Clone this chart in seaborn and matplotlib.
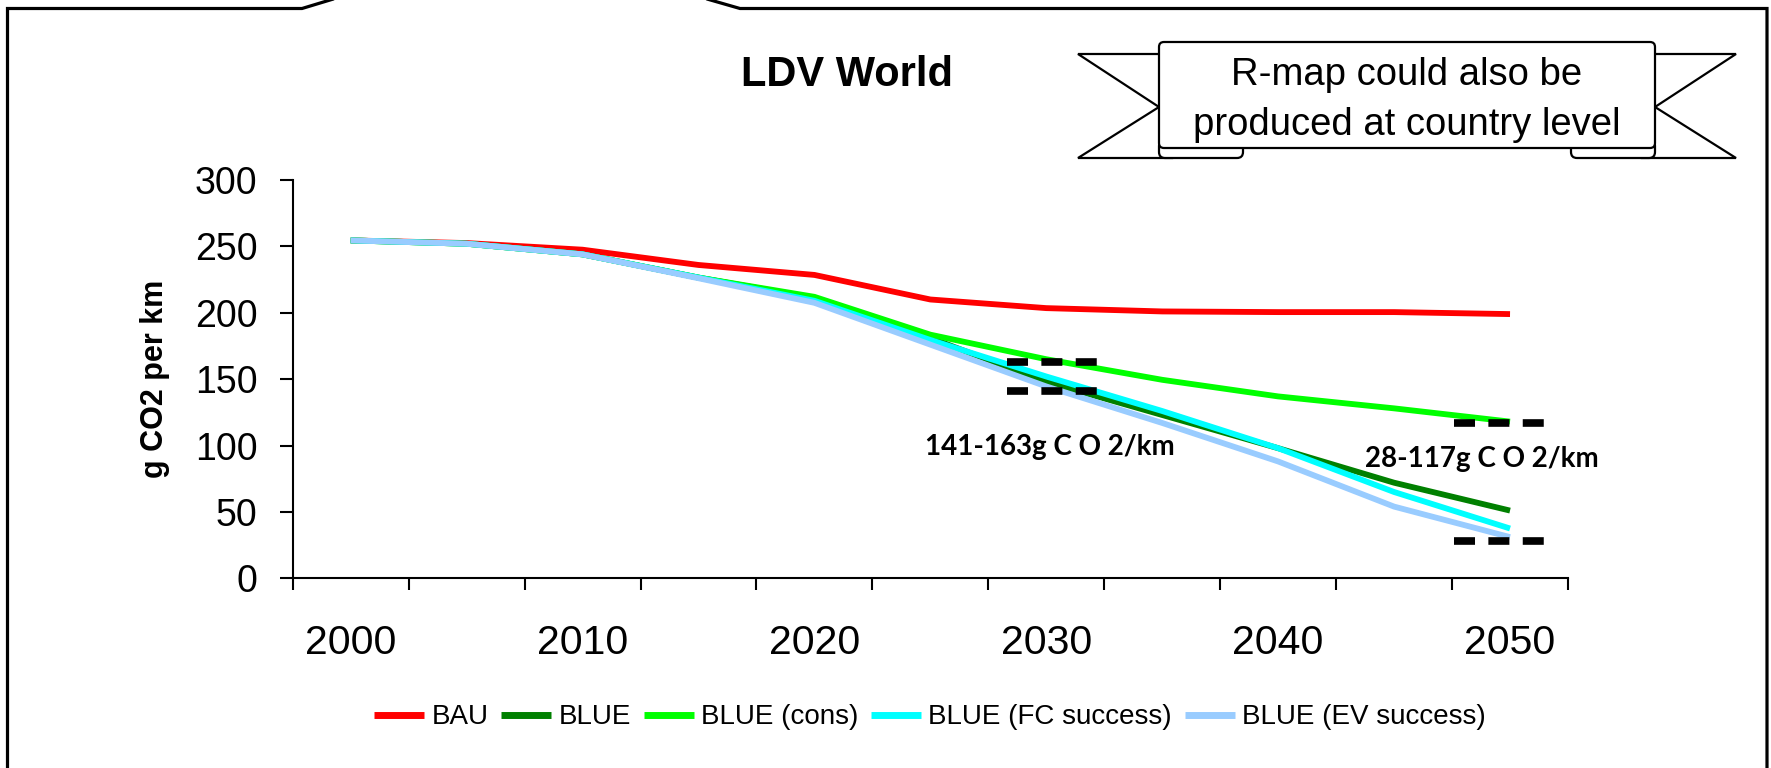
import matplotlib
matplotlib.use("Agg")
import matplotlib.pyplot as plt
from matplotlib.patches import Polygon, FancyBboxPatch
import numpy as np
import pandas as pd
import seaborn as sns

# ---- data -------------------------------------------------------------
years = [2000, 2005, 2010, 2015, 2020, 2025, 2030, 2035, 2040, 2045, 2050]
bau = [254.5, 252.5, 247.5, 236, 228.5, 210, 203.5, 201, 200.5, 200.5, 199]
blue = [254.5, 252, 244, 226.5, 211, 181, 148, 123, 98, 72, 51]
blue_cons = [254.5, 252, 244, 226.5, 212, 183.5, 165, 149.5, 137, 128, 118]
blue_fc = [254.5, 252, 244, 226.5, 209, 179.5, 152, 126, 98, 65, 37.5]
blue_ev = [254.5, 252, 244, 226, 207.5, 176, 144.5, 117, 88, 54, 31]

series_names = ["BAU", "BLUE", "BLUE (cons)", "BLUE (FC success)", "BLUE (EV success)"]
series_colors = ["#FF0000", "#008000", "#00FF00", "#00FFFF", "#99CCFF"]

x_label_years = [2000, 2010, 2020, 2030, 2040, 2050]
x_tick_labels = ["2000", "2010", "2020", "2030", "2040", "2050"]
y_ticks = [0, 50, 100, 150, 200, 250, 300]

range_2030 = [141, 163]   # g CO2/km band in 2030
range_2050 = [28, 117]    # g CO2/km band in 2050

title = "LDV World"
y_title = "g CO2 per km"
banner_lines = ["R-map could also be", "produced at country level"]

# ---- figure -----------------------------------------------------------
sns.set_theme(style="white")
plt.rcParams["font.family"] = ["Liberation Sans", "DejaVu Sans"]
plt.rcParams["text.color"] = "black"
plt.rcParams["axes.labelcolor"] = "black"
plt.rcParams["xtick.color"] = "black"
plt.rcParams["ytick.color"] = "black"

W, H = 1771, 768
fig = plt.figure(figsize=(W / 100, H / 100), dpi=100)
fig.patch.set_facecolor("white")

ax_l, ax_r, ax_t, ax_b = 292.7, 1568.0, 180.0, 578.3
ax = fig.add_axes([ax_l / W, 1 - ax_b / H, (ax_r - ax_l) / W, (ax_b - ax_t) / H])

long = pd.DataFrame({
    "year": years * len(series_names),
    "value": bau + blue + blue_cons + blue_fc + blue_ev,
    "scenario": [n for n in series_names for _ in years],
})
sns.lineplot(data=long, x="year", y="value", hue="scenario",
             hue_order=series_names, palette=dict(zip(series_names, series_colors)),
             linewidth=4.2, estimator=None, sort=False, legend=False, ax=ax)
series_lines = list(ax.get_lines())
for ln in series_lines:
    ln.set_solid_capstyle("butt")
    ln.set_solid_joinstyle("round")

# dashed range markers and their captions
def range_marks(x0, x1, lo, hi, tx, ty):
    for v in (lo, hi):
        ax.plot([x0, x1], [v, v], color="black", lw=5.5,
                ls=(0, (2.75, 1.75)), dash_capstyle="butt", zorder=6)
    ax.text(tx, ty, f"{lo}-{hi}g C O 2/km", ha="left", va="baseline",
            fontsize=20, fontweight="bold", family=["Lato", "DejaVu Sans"],
            color="black", zorder=7)

range_marks(2028.3, 2032.2, range_2030[0], range_2030[1], 2024.75, 92.9)
range_marks(2047.6, 2051.5, range_2050[0], range_2050[1], 2043.75, 84.1)

# axes styling
ax.set_xlim(1997.5, 2052.5)
ax.set_ylim(0, 300)
ax.set_xlabel("")
major_x = np.arange(1997.5, 2053, 5)
ax.set_xticks(major_x)
ax.set_xticklabels([""] * len(major_x))
ax.set_xticks(x_label_years, minor=True)
ax.set_xticklabels(x_tick_labels, minor=True)
ax.tick_params(axis="x", which="major", bottom=True, direction="out",
               length=8.6, width=1.5, color="black")
ax.tick_params(axis="x", which="minor", bottom=True, length=0, pad=33,
               labelsize=29.5, labelcolor="black")
ax.set_yticks(y_ticks)
ax.tick_params(axis="y", which="major", left=True, direction="out",
               length=9.4, width=1.5, color="black", pad=16,
               labelsize=27, labelcolor="black")
for side in ("top", "right"):
    ax.spines[side].set_visible(False)
for side in ("left", "bottom"):
    ax.spines[side].set_color("black")
    ax.spines[side].set_linewidth(1.5)
ax.set_ylabel(y_title, fontsize=22, fontweight="bold", color="black")
ax.yaxis.set_label_coords(-0.0962, 0.5)
ax.set_facecolor("white")

leg = ax.legend(series_lines, series_names, loc="center",
                bbox_to_anchor=(930 / W, 1 - 717.5 / H),
                bbox_transform=fig.transFigure, ncol=5, frameon=False,
                fontsize=20, handlelength=1.8, handletextpad=0.25,
                columnspacing=0.47, labelcolor="black")
for h in leg.get_lines():
    h.set_linewidth(5)

# ---- page decorations: frame, title, banner -----------------------------
ov = fig.add_axes([0, 0, 1, 1], zorder=5)
ov.set_xlim(0, W)
ov.set_ylim(H, 0)
ov.axis("off")
ov.patch.set_alpha(0)

frame_kw = dict(color="black", lw=2.3, solid_joinstyle="miter")
ov.plot([7.5, 7.5, 302, 340], [775, 8.5, 8.5, -3], **frame_kw)
ov.plot([700, 740, 1767, 1767], [-3, 8.5, 8.5, 775], **frame_kw)

ov.text(846.7, 86, title, ha="center", va="baseline", fontsize=30,
        fontweight="bold", color="black")

bl, br = 1159, 1655
mir = bl + br
edge = dict(fc="white", ec="black", lw=1.6, joinstyle="miter")
left_tail = [(1172, 54), (1078, 54), (1159, 107), (1078, 158), (1172, 158)]
right_tail = [(mir - x, y) for x, y in left_tail]
ov.add_patch(Polygon(left_tail, closed=True, zorder=1, **edge))
ov.add_patch(Polygon(right_tail, closed=True, zorder=1, **edge))
ov.add_patch(FancyBboxPatch((bl, 140), 84, 18, boxstyle="round,pad=0,rounding_size=6",
                            fc="white", ec="black", lw=1.6, zorder=2))
ov.add_patch(FancyBboxPatch((br - 84, 140), 84, 18, boxstyle="round,pad=0,rounding_size=6",
                            fc="white", ec="black", lw=1.6, zorder=2))
ov.add_patch(FancyBboxPatch((bl, 42), br - bl, 106, boxstyle="round,pad=0,rounding_size=5",
                            fc="white", ec="black", lw=1.6, zorder=3))
ov.text((bl + br) / 2, 85, banner_lines[0], ha="center", va="baseline",
        fontsize=27.5, color="black", zorder=4)
ov.text((bl + br) / 2, 135, banner_lines[1], ha="center", va="baseline",
        fontsize=27.5, color="black", zorder=4)

fig.savefig("out.png", dpi=100, facecolor="white")
